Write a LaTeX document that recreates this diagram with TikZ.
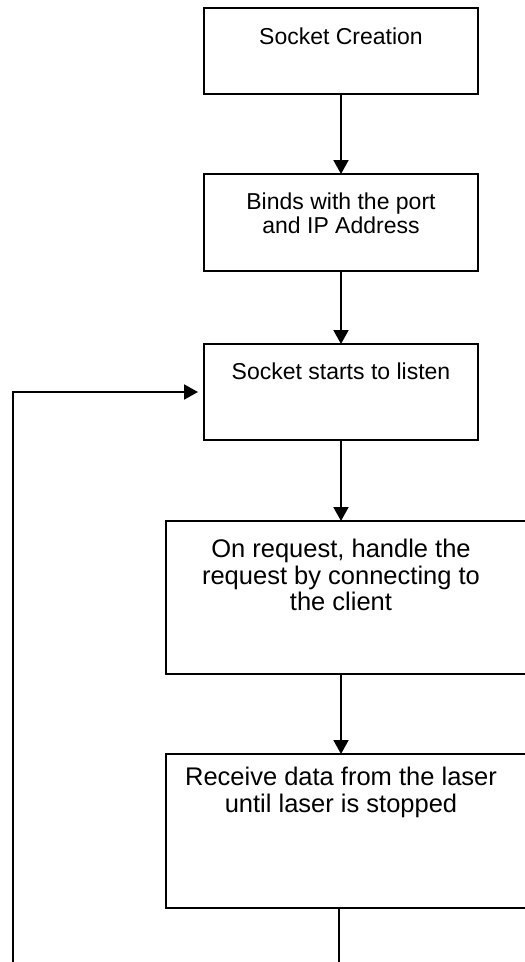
\documentclass[tikz,border=0pt]{standalone}
\usepackage{fontspec}
\setmainfont{Liberation Sans}
\usetikzlibrary{arrows.meta}

\begin{document}
\begin{tikzpicture}[x=1pt, y=-1pt,
  box/.style={draw, line width=1.3pt, inner sep=0pt, outer sep=0pt, fill=white},
  smalltext/.style={anchor=north, inner sep=0pt, align=center,
    font=\fontsize{23}{24}\selectfont},
  bigtext/.style={anchor=north, inner sep=0pt, align=center,
    font=\fontsize{25.5}{26.8}\selectfont},
  flow/.style={line width=2pt, -{Triangle[width=15pt,length=14pt]}},
  plain/.style={line width=2pt}]
  \useasboundingbox (0,0) rectangle (525,962);
  \clip (0,0) rectangle (525,962);

  % process boxes
  \node[box, minimum width=274pt, minimum height=86pt] (b1) at (341,51) {};
  \node[box, minimum width=274pt, minimum height=97pt] (b2) at (341,222.5) {};
  \node[box, minimum width=274pt, minimum height=96pt] (b3) at (341,392) {};
  \node[box, minimum width=374pt, minimum height=153pt] (b4) at (353,597.5) {};
  \node[box, minimum width=374pt, minimum height=154pt] (b5) at (353,831) {};

  % box captions
  \node[smalltext] (t1) at (341,27.4) {Socket Creation};
  \node[smalltext] (t2) at (341,192.4) {Binds with the port\\and IP Address};
  \node[smalltext] (t3) at (341,362.4) {Socket starts to listen};
  \node[bigtext] (t4) at (341,538.6) {On request, handle the\\request by connecting to\\the client};
  \node[bigtext] (t5) at (341,767) {Receive data from the laser\\until laser is stopped};

  % connectors
  \coordinate (below) at (339,990);
  \coordinate (far) at (13,990);
  \draw[flow] (b1.south) -- (b2.north);
  \draw[flow] (b2.south) -- (b3.north);
  \draw[flow] (b3.south) -- (b3.south |- b4.north);
  \draw[flow] (b3.south |- b4.south) -- (b3.south |- b5.north);
  \draw[flow, shorten >=6pt] (b5.south -| below) -- (below) -- (far) |- (b3.west);
\end{tikzpicture}
\end{document}
